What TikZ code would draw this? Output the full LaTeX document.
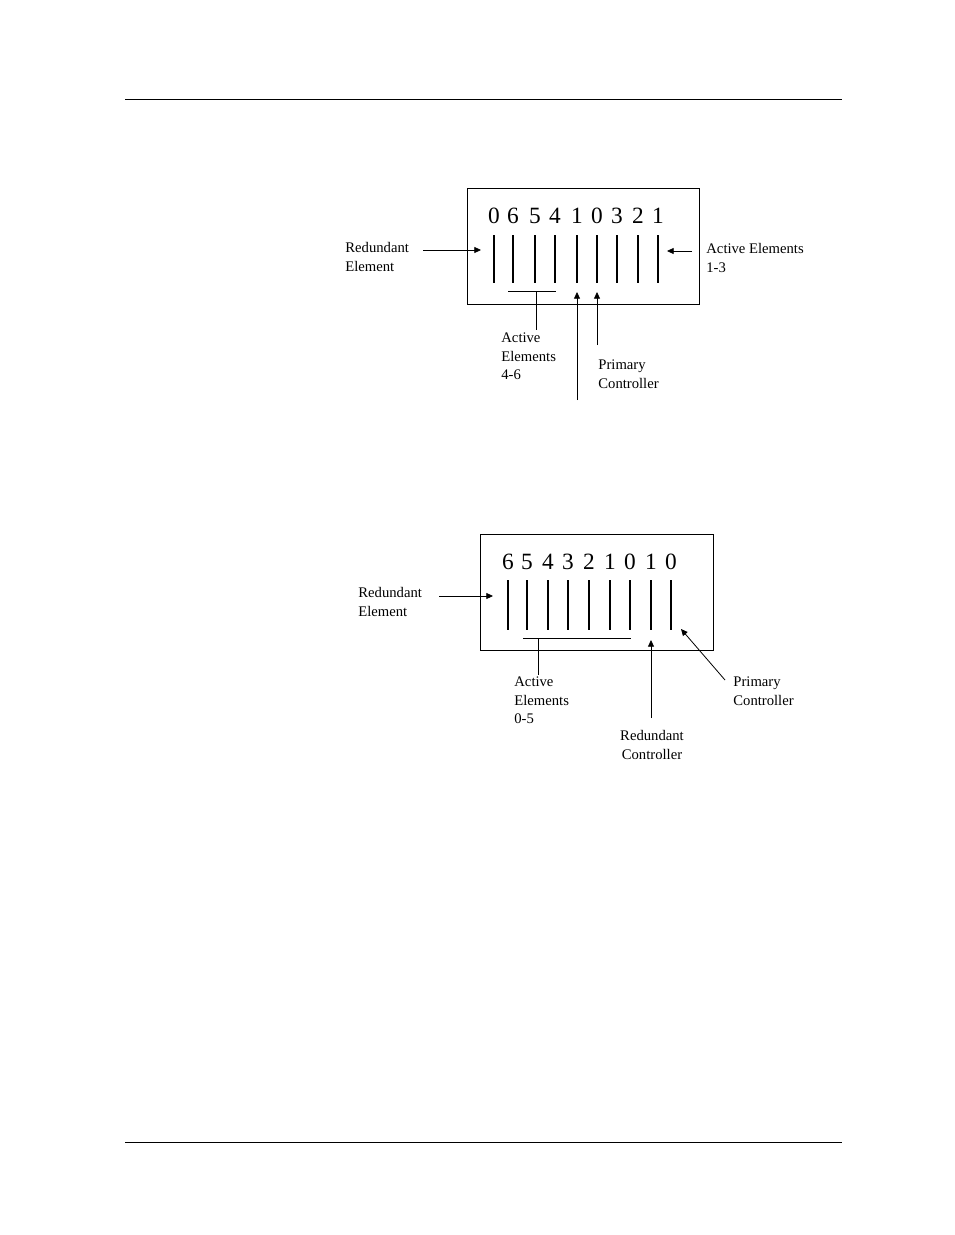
\documentclass[tikz,border=0pt]{standalone}
\usepackage{fontspec}
\setmainfont{Liberation Serif}
\usetikzlibrary{arrows.meta, positioning}
\tikzstyle{txt} = [anchor=north west, inner sep=0pt, align=left, font=\fontsize{11}{14.2}\selectfont]
\tikzstyle{digits} = [font=\fontsize{17.5}{20}\selectfont, inner sep=0pt]
\tikzstyle{bar} = [line width=1.6pt]
\tikzstyle{arrow} = [-{Triangle[length=5pt,width=4.5pt]}]
\begin{document}
\begin{tikzpicture}[x=0.75pt, y=-0.75pt, line width=0.6pt]
\useasboundingbox (0,0) rectangle (954,1235);

% Page rules
\draw (125,99) -- (842,99);
\draw (125,1142) -- (842,1142);

% Top diagram
\node (box1) [draw, minimum width=174pt, minimum height=87pt, inner sep=0pt] at (583,246) {};
\foreach \x/\d in {494/0,513/6,535/5,555/4,577/1,597/0,617/3,638/2,658/1} {
  \node[digits] at (\x,216) {\d};
  \draw[bar] (\x,235) -- (\x,283);
}
\node (red1) [txt] at (345,242) {Redundant\\Element};
\node (act13) [txt] at (706,243) {Active Elements\\1-3};
\node (act46) [txt] at (501,332) {Active\\Elements\\4-6};
\node (prim1) [txt] at (598,359) {Primary\\Controller};
\coordinate (under1a) at (508,291);
\coordinate (under1b) at (556,291);
\coordinate (under1c) at (536,291);
\coordinate (free1) at (577,400);
\draw (under1a) -- (under1b);
\draw (under1c) -- (536,330);
\draw [arrow] (423,250) -- (481,250);
\draw [arrow] (692,251) -- (667,251);
\draw [arrow] (free1) -- (577,292);
\draw [arrow] (597,345) -- (597,292);

% Bottom diagram
\node (box2) [draw, minimum width=174.75pt, minimum height=87pt, inner sep=0pt] at (596.5,592) {};
\foreach \x/\d in {508/6,527/5,548/4,568/3,589/2,610/1,630/0,651/1,671/0} {
  \node[digits] at (\x,562) {\d};
  \draw[bar] (\x,580) -- (\x,630);
}
\node (red2) [txt] at (358,587) {Redundant\\Element};
\node (act05) [txt] at (514,676) {Active\\Elements\\0-5};
\node (redc) [txt, align=center, anchor=north] at (652,730) {Redundant\\Controller};
\node (prim2) [txt] at (733,676) {Primary\\Controller};
\coordinate (redcTop) at (651,718);
\draw (523,638) -- (631,638);
\draw (538,638) -- (538,675);
\draw [arrow] (439,596) -- (493,596);
\draw [arrow] (redcTop) -- (651,640);
\draw [arrow] (725,680) -- (681,629);

\end{tikzpicture}
\end{document}
